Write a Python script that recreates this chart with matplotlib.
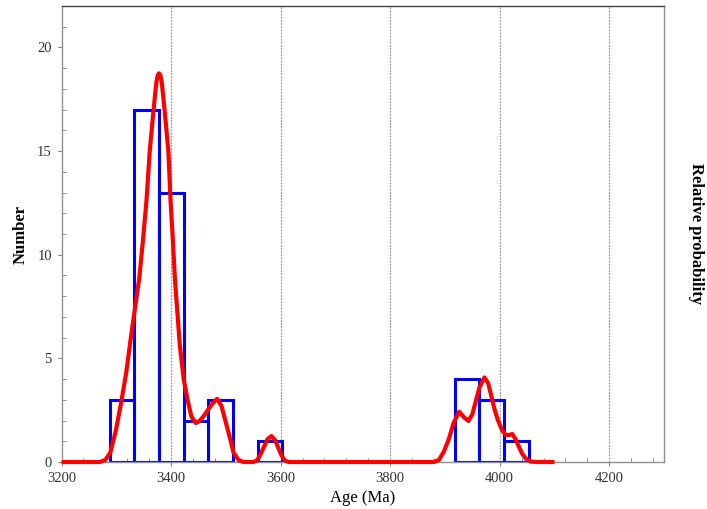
import matplotlib
matplotlib.use("Agg")
import matplotlib.pyplot as plt
from matplotlib.ticker import MultipleLocator

# Histogram bins (left edges, Ma) and counts
bin_width = 45
bin_left = [3288, 3333, 3378, 3423, 3468, 3558, 3918, 3963, 4008]
bin_count = [3, 17, 13, 2, 3, 1, 4, 3, 1]

# Relative probability curve (scaled to Number axis)
curve_age = [3200, 3270, 3280, 3289, 3299, 3309, 3318, 3326, 3334, 3342, 3349, 3355,
             3361, 3368, 3373, 3375.5, 3378, 3380.5, 3383, 3388, 3395, 3399, 3403,
             3407, 3411.5, 3416, 3423, 3430, 3437, 3445, 3452, 3459, 3467, 3475,
             3484, 3492, 3500, 3507, 3514, 3523, 3532, 3550, 3557, 3563, 3569,
             3576, 3583, 3590, 3596, 3602, 3608, 3615, 3880, 3889, 3898, 3907,
             3916, 3926, 3935, 3943, 3950, 3956, 3963, 3972, 3979, 3985, 3991,
             3997, 4004, 4011, 4017, 4023, 4029, 4035, 4041, 4047, 4056, 4070, 4100]
curve_val = [0, 0, 0.1, 0.45, 1.5, 2.9, 4.3, 5.9, 7.4, 8.9, 10.8, 12.6,
             15.0, 17.0, 18.3, 18.65, 18.75, 18.65, 18.3, 17.0, 15.0, 12.6, 10.8,
             8.8, 7.2, 5.6, 4.0, 3.0, 2.2, 1.88, 1.98, 2.2, 2.5, 2.8,
             3.05, 2.7, 1.9, 1.2, 0.45, 0.1, 0, 0, 0.08, 0.35, 0.7,
             1.1, 1.25, 1.05, 0.66, 0.3, 0.06, 0, 0, 0.1, 0.5, 1.1,
             1.9, 2.42, 2.15, 1.98, 2.3, 2.9, 3.6, 4.08, 3.8, 3.15, 2.5,
             2.0, 1.55, 1.3, 1.3, 1.35, 1.1, 0.74, 0.4, 0.18, 0.02, 0, 0]

x_major = [3200, 3400, 3600, 3800, 4000, 4200]
y_major = [0, 5, 10, 15, 20]

plt.rcParams['font.family'] = ['Liberation Serif', 'DejaVu Serif']

fig = plt.figure(figsize=(7.07, 5.09), dpi=100)
ax = fig.add_axes([0.0871, 0.0923, 0.8521, 0.8959])

ax.set_xlim(3200, 4300)
ax.set_ylim(0, 22)

for g in x_major[1:]:
    ax.axvline(g, color='#999999', lw=0.9, ls=(0, (1.5, 1.0)), zorder=0)

ax.bar(bin_left, bin_count, width=bin_width, align='edge', fill=False,
       edgecolor='#0000ff', linewidth=2.2, zorder=2)

ax.plot(curve_age, curve_val, color='#ff0000', lw=3.0, solid_joinstyle='round',
        solid_capstyle='butt', zorder=3, clip_on=False)

ax.set_xticks(x_major)
ax.set_yticks(y_major)
ax.xaxis.set_minor_locator(MultipleLocator(40))
ax.yaxis.set_minor_locator(MultipleLocator(1))
ax.tick_params(which='major', direction='out', length=3, color='#808080',
               labelsize=10.5, labelcolor='#333333', pad=4)
ax.tick_params(which='minor', direction='in', length=3, color='#808080')
ax.tick_params(axis='x', which='major', pad=4)

for s in ['left', 'right', 'bottom']:
    ax.spines[s].set_color('#909090')
    ax.spines[s].set_linewidth(1.0)
ax.spines['top'].set_color('#404040')
ax.spines['top'].set_linewidth(1.0)

ax.set_xlabel('Age (Ma)', fontsize=12)
ax.set_ylabel('Number', fontsize=12, fontweight='bold')
ax.xaxis.set_label_coords(0.499, -0.062)
ax.yaxis.set_label_coords(-0.055, 0.5)
fig.text(0.985, 0.5415, 'Relative probability', rotation=270, fontsize=12,
         fontweight='bold', ha='center', va='center')

fig.savefig('out.png', dpi=100)
